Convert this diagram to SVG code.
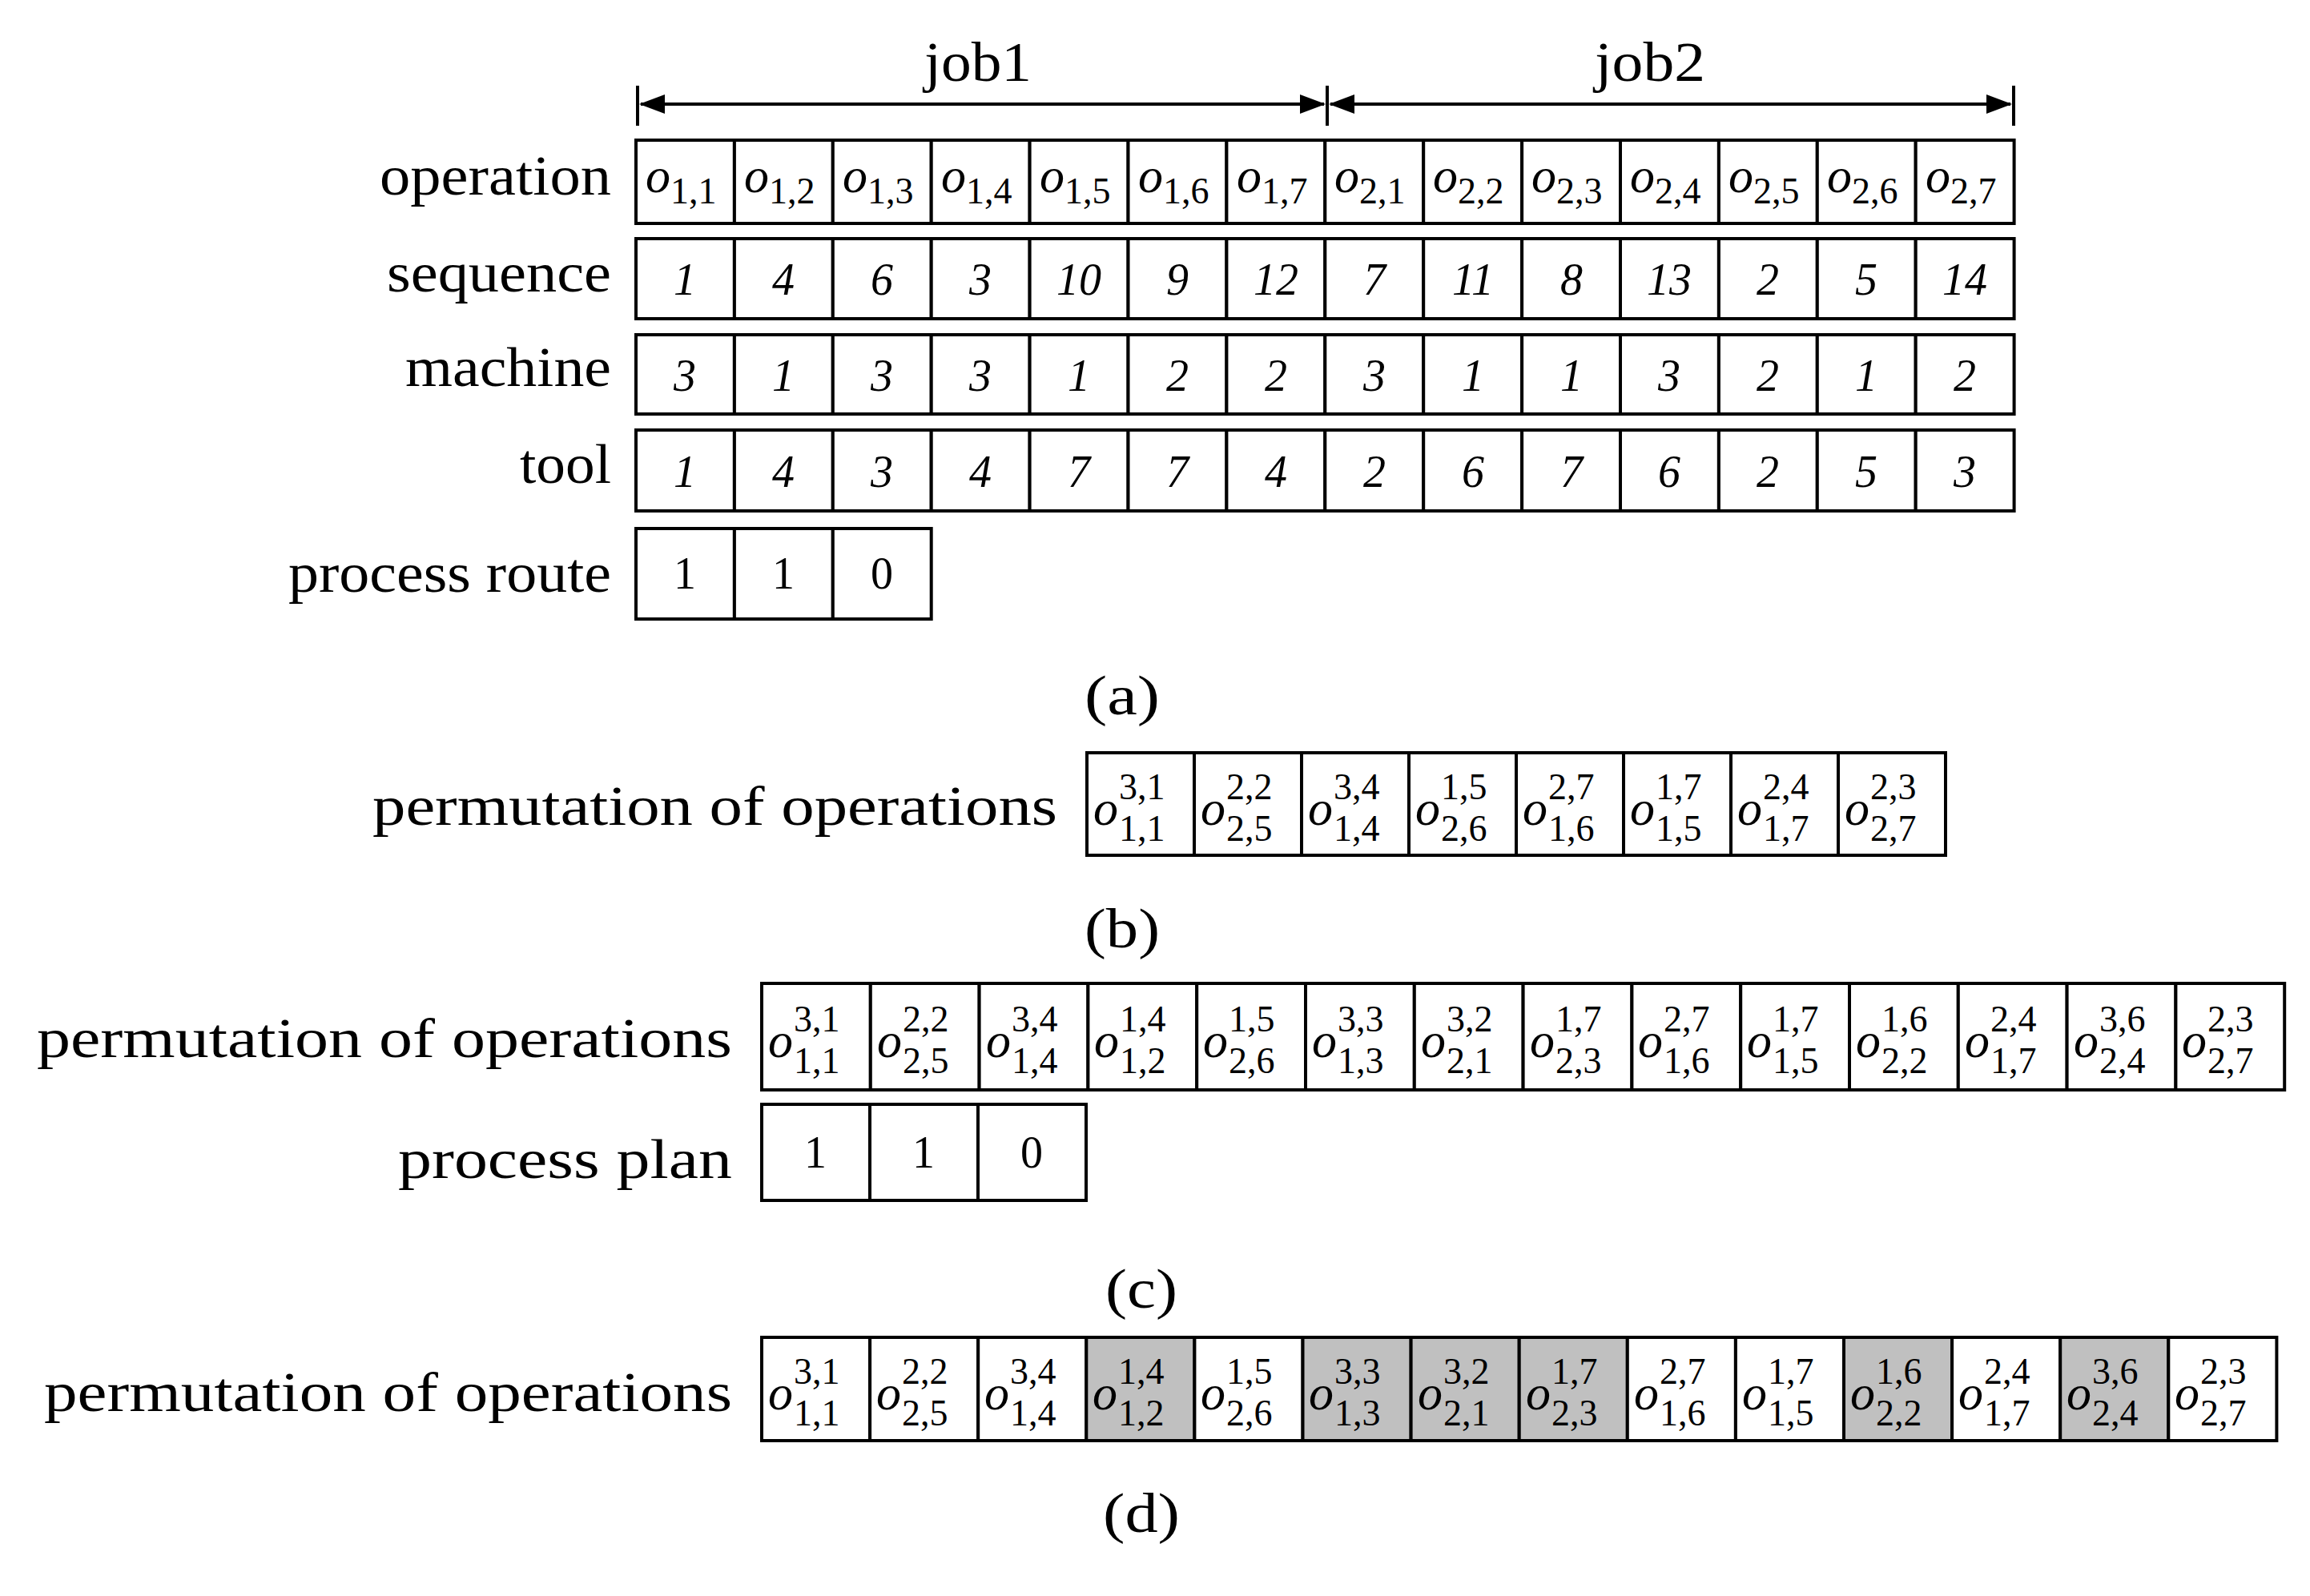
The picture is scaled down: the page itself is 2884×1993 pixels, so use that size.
<svg xmlns="http://www.w3.org/2000/svg" width="2884" height="1993" viewBox="0 0 2884 1993">
<style>
text{font-family:"Liberation Serif","DejaVu Serif",serif;fill:#000}
.lab{font-size:70px;text-anchor:end}
.cap{font-size:70px;text-anchor:middle}
.c{fill:#fff;stroke:#000;stroke-width:4}
.g{fill:#c0c0c0;stroke:#000;stroke-width:4}
.n{font-size:56px;font-style:italic;text-anchor:middle}
.u{font-size:56px;text-anchor:middle}
.o{font-size:62px;font-style:italic}
.s{font-size:46px}
</style>
<defs>
<marker id="ah" markerWidth="8" markerHeight="6" refX="7.5" refY="3" orient="auto-start-reverse" markerUnits="strokeWidth"><path d="M0,0L8,3L0,6z" fill="#000"/></marker>
</defs>
<g id="connectors" stroke="#000" stroke-width="4" fill="none">
<line x1="796" y1="107" x2="796" y2="157"/>
<line x1="1657" y1="107" x2="1657" y2="157"/>
<line x1="2514" y1="107" x2="2514" y2="157"/>
<line x1="800" y1="130" x2="1653" y2="130" marker-start="url(#ah)" marker-end="url(#ah)"/>
<line x1="1661" y1="130" x2="2510" y2="130" marker-start="url(#ah)" marker-end="url(#ah)"/>
</g>
<g id="labels">
<text class="cap" x="1221" y="101" textLength="134" lengthAdjust="spacingAndGlyphs">job1</text>
<text class="cap" x="2060" y="101" textLength="138" lengthAdjust="spacingAndGlyphs">job2</text>
<text class="lab" x="763" y="243" textLength="289" lengthAdjust="spacingAndGlyphs">operation</text>
<text class="lab" x="763" y="364" textLength="280" lengthAdjust="spacingAndGlyphs">sequence</text>
<text class="lab" x="763" y="482" textLength="257" lengthAdjust="spacingAndGlyphs">machine</text>
<text class="lab" x="763" y="603" textLength="114" lengthAdjust="spacingAndGlyphs">tool</text>
<text class="lab" x="763" y="739" textLength="403" lengthAdjust="spacingAndGlyphs">process route</text>
<text class="cap" x="1401" y="892" textLength="94" lengthAdjust="spacingAndGlyphs">(a)</text>
<text class="lab" x="1320" y="1030" textLength="855" lengthAdjust="spacingAndGlyphs">permutation of operations</text>
<text class="cap" x="1401" y="1183" textLength="94" lengthAdjust="spacingAndGlyphs">(b)</text>
<text class="lab" x="914" y="1320" textLength="868" lengthAdjust="spacingAndGlyphs">permutation of operations</text>
<text class="lab" x="914" y="1471" textLength="417" lengthAdjust="spacingAndGlyphs">process plan</text>
<text class="cap" x="1425" y="1633" textLength="90" lengthAdjust="spacingAndGlyphs">(c)</text>
<text class="lab" x="914" y="1762" textLength="859" lengthAdjust="spacingAndGlyphs">permutation of operations</text>
<text class="cap" x="1425" y="1913" textLength="96" lengthAdjust="spacingAndGlyphs">(d)</text>
</g>
<g id="operation">
<rect class="c" x="794" y="175" width="122.9" height="104"/><rect class="c" x="916.9" y="175" width="122.9" height="104"/><rect class="c" x="1039.8" y="175" width="122.9" height="104"/><rect class="c" x="1162.7" y="175" width="122.9" height="104"/><rect class="c" x="1285.6" y="175" width="122.9" height="104"/><rect class="c" x="1408.5" y="175" width="122.9" height="104"/><rect class="c" x="1531.4" y="175" width="122.9" height="104"/><rect class="c" x="1654.3" y="175" width="122.9" height="104"/><rect class="c" x="1777.2" y="175" width="122.9" height="104"/><rect class="c" x="1900.1" y="175" width="122.9" height="104"/><rect class="c" x="2023" y="175" width="122.9" height="104"/><rect class="c" x="2145.9" y="175" width="122.9" height="104"/><rect class="c" x="2268.8" y="175" width="122.9" height="104"/><rect class="c" x="2391.7" y="175" width="122.9" height="104"/>
<text x="806" y="240"><tspan class="o">o</tspan><tspan class="s" dy="14">1,1</tspan></text>
<text x="929" y="240"><tspan class="o">o</tspan><tspan class="s" dy="14">1,2</tspan></text>
<text x="1052" y="240"><tspan class="o">o</tspan><tspan class="s" dy="14">1,3</tspan></text>
<text x="1175" y="240"><tspan class="o">o</tspan><tspan class="s" dy="14">1,4</tspan></text>
<text x="1298" y="240"><tspan class="o">o</tspan><tspan class="s" dy="14">1,5</tspan></text>
<text x="1421" y="240"><tspan class="o">o</tspan><tspan class="s" dy="14">1,6</tspan></text>
<text x="1544" y="240"><tspan class="o">o</tspan><tspan class="s" dy="14">1,7</tspan></text>
<text x="1666" y="240"><tspan class="o">o</tspan><tspan class="s" dy="14">2,1</tspan></text>
<text x="1789" y="240"><tspan class="o">o</tspan><tspan class="s" dy="14">2,2</tspan></text>
<text x="1912" y="240"><tspan class="o">o</tspan><tspan class="s" dy="14">2,3</tspan></text>
<text x="2035" y="240"><tspan class="o">o</tspan><tspan class="s" dy="14">2,4</tspan></text>
<text x="2158" y="240"><tspan class="o">o</tspan><tspan class="s" dy="14">2,5</tspan></text>
<text x="2281" y="240"><tspan class="o">o</tspan><tspan class="s" dy="14">2,6</tspan></text>
<text x="2404" y="240"><tspan class="o">o</tspan><tspan class="s" dy="14">2,7</tspan></text>
</g>
<g id="sequence">
<rect class="c" x="794" y="298" width="122.9" height="100"/><rect class="c" x="916.9" y="298" width="122.9" height="100"/><rect class="c" x="1039.8" y="298" width="122.9" height="100"/><rect class="c" x="1162.7" y="298" width="122.9" height="100"/><rect class="c" x="1285.6" y="298" width="122.9" height="100"/><rect class="c" x="1408.5" y="298" width="122.9" height="100"/><rect class="c" x="1531.4" y="298" width="122.9" height="100"/><rect class="c" x="1654.3" y="298" width="122.9" height="100"/><rect class="c" x="1777.2" y="298" width="122.9" height="100"/><rect class="c" x="1900.1" y="298" width="122.9" height="100"/><rect class="c" x="2023" y="298" width="122.9" height="100"/><rect class="c" x="2145.9" y="298" width="122.9" height="100"/><rect class="c" x="2268.8" y="298" width="122.9" height="100"/><rect class="c" x="2391.7" y="298" width="122.9" height="100"/>
<text class="n" x="855" y="368">1</text><text class="n" x="978" y="368">4</text><text class="n" x="1101" y="368">6</text><text class="n" x="1224" y="368">3</text><text class="n" x="1347" y="368">10</text><text class="n" x="1470" y="368">9</text><text class="n" x="1593" y="368">12</text><text class="n" x="1716" y="368">7</text><text class="n" x="1839" y="368">11</text><text class="n" x="1962" y="368">8</text><text class="n" x="2084" y="368">13</text><text class="n" x="2207" y="368">2</text><text class="n" x="2330" y="368">5</text><text class="n" x="2453" y="368">14</text>
</g>
<g id="machine">
<rect class="c" x="794" y="418" width="122.9" height="99"/><rect class="c" x="916.9" y="418" width="122.9" height="99"/><rect class="c" x="1039.8" y="418" width="122.9" height="99"/><rect class="c" x="1162.7" y="418" width="122.9" height="99"/><rect class="c" x="1285.6" y="418" width="122.9" height="99"/><rect class="c" x="1408.5" y="418" width="122.9" height="99"/><rect class="c" x="1531.4" y="418" width="122.9" height="99"/><rect class="c" x="1654.3" y="418" width="122.9" height="99"/><rect class="c" x="1777.2" y="418" width="122.9" height="99"/><rect class="c" x="1900.1" y="418" width="122.9" height="99"/><rect class="c" x="2023" y="418" width="122.9" height="99"/><rect class="c" x="2145.9" y="418" width="122.9" height="99"/><rect class="c" x="2268.8" y="418" width="122.9" height="99"/><rect class="c" x="2391.7" y="418" width="122.9" height="99"/>
<text class="n" x="855" y="488">3</text><text class="n" x="978" y="488">1</text><text class="n" x="1101" y="488">3</text><text class="n" x="1224" y="488">3</text><text class="n" x="1347" y="488">1</text><text class="n" x="1470" y="488">2</text><text class="n" x="1593" y="488">2</text><text class="n" x="1716" y="488">3</text><text class="n" x="1839" y="488">1</text><text class="n" x="1962" y="488">1</text><text class="n" x="2084" y="488">3</text><text class="n" x="2207" y="488">2</text><text class="n" x="2330" y="488">1</text><text class="n" x="2453" y="488">2</text>
</g>
<g id="tool">
<rect class="c" x="794" y="537" width="122.9" height="101"/><rect class="c" x="916.9" y="537" width="122.9" height="101"/><rect class="c" x="1039.8" y="537" width="122.9" height="101"/><rect class="c" x="1162.7" y="537" width="122.9" height="101"/><rect class="c" x="1285.6" y="537" width="122.9" height="101"/><rect class="c" x="1408.5" y="537" width="122.9" height="101"/><rect class="c" x="1531.4" y="537" width="122.9" height="101"/><rect class="c" x="1654.3" y="537" width="122.9" height="101"/><rect class="c" x="1777.2" y="537" width="122.9" height="101"/><rect class="c" x="1900.1" y="537" width="122.9" height="101"/><rect class="c" x="2023" y="537" width="122.9" height="101"/><rect class="c" x="2145.9" y="537" width="122.9" height="101"/><rect class="c" x="2268.8" y="537" width="122.9" height="101"/><rect class="c" x="2391.7" y="537" width="122.9" height="101"/>
<text class="n" x="855" y="608">1</text><text class="n" x="978" y="608">4</text><text class="n" x="1101" y="608">3</text><text class="n" x="1224" y="608">4</text><text class="n" x="1347" y="608">7</text><text class="n" x="1470" y="608">7</text><text class="n" x="1593" y="608">4</text><text class="n" x="1716" y="608">2</text><text class="n" x="1839" y="608">6</text><text class="n" x="1962" y="608">7</text><text class="n" x="2084" y="608">6</text><text class="n" x="2207" y="608">2</text><text class="n" x="2330" y="608">5</text><text class="n" x="2453" y="608">3</text>
</g>
<g id="process-route">
<rect class="c" x="794" y="660" width="122.9" height="113"/><rect class="c" x="916.9" y="660" width="122.9" height="113"/><rect class="c" x="1039.8" y="660" width="122.9" height="113"/>
<text class="u" x="855" y="735">1</text><text class="u" x="978" y="735">1</text><text class="u" x="1101" y="735">0</text>
</g>
<g id="perm-b">
<rect class="c" x="1357" y="940" width="134" height="128"/><rect class="c" x="1491" y="940" width="134" height="128"/><rect class="c" x="1625" y="940" width="134" height="128"/><rect class="c" x="1759" y="940" width="134" height="128"/><rect class="c" x="1893" y="940" width="134" height="128"/><rect class="c" x="2027" y="940" width="134" height="128"/><rect class="c" x="2161" y="940" width="134" height="128"/><rect class="c" x="2295" y="940" width="134" height="128"/>
<text class="o" x="1365" y="1030">o</text><text class="s" x="1397" y="998">3,1</text><text class="s" x="1397" y="1050">1,1</text>
<text class="o" x="1499" y="1030">o</text><text class="s" x="1531" y="998">2,2</text><text class="s" x="1531" y="1050">2,5</text>
<text class="o" x="1633" y="1030">o</text><text class="s" x="1665" y="998">3,4</text><text class="s" x="1665" y="1050">1,4</text>
<text class="o" x="1767" y="1030">o</text><text class="s" x="1799" y="998">1,5</text><text class="s" x="1799" y="1050">2,6</text>
<text class="o" x="1901" y="1030">o</text><text class="s" x="1933" y="998">2,7</text><text class="s" x="1933" y="1050">1,6</text>
<text class="o" x="2035" y="1030">o</text><text class="s" x="2067" y="998">1,7</text><text class="s" x="2067" y="1050">1,5</text>
<text class="o" x="2169" y="1030">o</text><text class="s" x="2201" y="998">2,4</text><text class="s" x="2201" y="1050">1,7</text>
<text class="o" x="2303" y="1030">o</text><text class="s" x="2335" y="998">2,3</text><text class="s" x="2335" y="1050">2,7</text>
</g>
<g id="perm-c">
<rect class="c" x="951" y="1228" width="135.8" height="133"/><rect class="c" x="1086.8" y="1228" width="135.8" height="133"/><rect class="c" x="1222.6" y="1228" width="135.8" height="133"/><rect class="c" x="1358.4" y="1228" width="135.8" height="133"/><rect class="c" x="1494.2" y="1228" width="135.8" height="133"/><rect class="c" x="1630" y="1228" width="135.8" height="133"/><rect class="c" x="1765.8" y="1228" width="135.8" height="133"/><rect class="c" x="1901.6" y="1228" width="135.8" height="133"/><rect class="c" x="2037.4" y="1228" width="135.8" height="133"/><rect class="c" x="2173.2" y="1228" width="135.8" height="133"/><rect class="c" x="2309" y="1228" width="135.8" height="133"/><rect class="c" x="2444.8" y="1228" width="135.8" height="133"/><rect class="c" x="2580.6" y="1228" width="135.8" height="133"/><rect class="c" x="2716.4" y="1228" width="135.8" height="133"/>
<text class="o" x="959" y="1320">o</text><text class="s" x="991" y="1288">3,1</text><text class="s" x="991" y="1340">1,1</text>
<text class="o" x="1095" y="1320">o</text><text class="s" x="1127" y="1288">2,2</text><text class="s" x="1127" y="1340">2,5</text>
<text class="o" x="1231" y="1320">o</text><text class="s" x="1263" y="1288">3,4</text><text class="s" x="1263" y="1340">1,4</text>
<text class="o" x="1366" y="1320">o</text><text class="s" x="1398" y="1288">1,4</text><text class="s" x="1398" y="1340">1,2</text>
<text class="o" x="1502" y="1320">o</text><text class="s" x="1534" y="1288">1,5</text><text class="s" x="1534" y="1340">2,6</text>
<text class="o" x="1638" y="1320">o</text><text class="s" x="1670" y="1288">3,3</text><text class="s" x="1670" y="1340">1,3</text>
<text class="o" x="1774" y="1320">o</text><text class="s" x="1806" y="1288">3,2</text><text class="s" x="1806" y="1340">2,1</text>
<text class="o" x="1910" y="1320">o</text><text class="s" x="1942" y="1288">1,7</text><text class="s" x="1942" y="1340">2,3</text>
<text class="o" x="2045" y="1320">o</text><text class="s" x="2077" y="1288">2,7</text><text class="s" x="2077" y="1340">1,6</text>
<text class="o" x="2181" y="1320">o</text><text class="s" x="2213" y="1288">1,7</text><text class="s" x="2213" y="1340">1,5</text>
<text class="o" x="2317" y="1320">o</text><text class="s" x="2349" y="1288">1,6</text><text class="s" x="2349" y="1340">2,2</text>
<text class="o" x="2453" y="1320">o</text><text class="s" x="2485" y="1288">2,4</text><text class="s" x="2485" y="1340">1,7</text>
<text class="o" x="2589" y="1320">o</text><text class="s" x="2621" y="1288">3,6</text><text class="s" x="2621" y="1340">2,4</text>
<text class="o" x="2724" y="1320">o</text><text class="s" x="2756" y="1288">2,3</text><text class="s" x="2756" y="1340">2,7</text>
</g>
<g id="process-plan">
<rect class="c" x="951" y="1379" width="135" height="120"/><rect class="c" x="1086" y="1379" width="135" height="120"/><rect class="c" x="1221" y="1379" width="135" height="120"/>
<text class="u" x="1018" y="1458">1</text><text class="u" x="1153" y="1458">1</text><text class="u" x="1288" y="1458">0</text>
</g>
<g id="perm-d">
<rect class="c" x="951" y="1670" width="135.1" height="129"/><rect class="c" x="1086.1" y="1670" width="135.1" height="129"/><rect class="c" x="1221.2" y="1670" width="135.1" height="129"/><rect class="g" x="1356.3" y="1670" width="135.1" height="129"/><rect class="c" x="1491.4" y="1670" width="135.1" height="129"/><rect class="g" x="1626.5" y="1670" width="135.1" height="129"/><rect class="g" x="1761.6" y="1670" width="135.1" height="129"/><rect class="g" x="1896.7" y="1670" width="135.1" height="129"/><rect class="c" x="2031.8" y="1670" width="135.1" height="129"/><rect class="c" x="2166.9" y="1670" width="135.1" height="129"/><rect class="g" x="2302" y="1670" width="135.1" height="129"/><rect class="c" x="2437.1" y="1670" width="135.1" height="129"/><rect class="g" x="2572.2" y="1670" width="135.1" height="129"/><rect class="c" x="2707.3" y="1670" width="135.1" height="129"/>
<text class="o" x="959" y="1760">o</text><text class="s" x="991" y="1728">3,1</text><text class="s" x="991" y="1780">1,1</text>
<text class="o" x="1094" y="1760">o</text><text class="s" x="1126" y="1728">2,2</text><text class="s" x="1126" y="1780">2,5</text>
<text class="o" x="1229" y="1760">o</text><text class="s" x="1261" y="1728">3,4</text><text class="s" x="1261" y="1780">1,4</text>
<text class="o" x="1364" y="1760">o</text><text class="s" x="1396" y="1728">1,4</text><text class="s" x="1396" y="1780">1,2</text>
<text class="o" x="1499" y="1760">o</text><text class="s" x="1531" y="1728">1,5</text><text class="s" x="1531" y="1780">2,6</text>
<text class="o" x="1634" y="1760">o</text><text class="s" x="1666" y="1728">3,3</text><text class="s" x="1666" y="1780">1,3</text>
<text class="o" x="1770" y="1760">o</text><text class="s" x="1802" y="1728">3,2</text><text class="s" x="1802" y="1780">2,1</text>
<text class="o" x="1905" y="1760">o</text><text class="s" x="1937" y="1728">1,7</text><text class="s" x="1937" y="1780">2,3</text>
<text class="o" x="2040" y="1760">o</text><text class="s" x="2072" y="1728">2,7</text><text class="s" x="2072" y="1780">1,6</text>
<text class="o" x="2175" y="1760">o</text><text class="s" x="2207" y="1728">1,7</text><text class="s" x="2207" y="1780">1,5</text>
<text class="o" x="2310" y="1760">o</text><text class="s" x="2342" y="1728">1,6</text><text class="s" x="2342" y="1780">2,2</text>
<text class="o" x="2445" y="1760">o</text><text class="s" x="2477" y="1728">2,4</text><text class="s" x="2477" y="1780">1,7</text>
<text class="o" x="2580" y="1760">o</text><text class="s" x="2612" y="1728">3,6</text><text class="s" x="2612" y="1780">2,4</text>
<text class="o" x="2715" y="1760">o</text><text class="s" x="2747" y="1728">2,3</text><text class="s" x="2747" y="1780">2,7</text>
</g>
</svg>
